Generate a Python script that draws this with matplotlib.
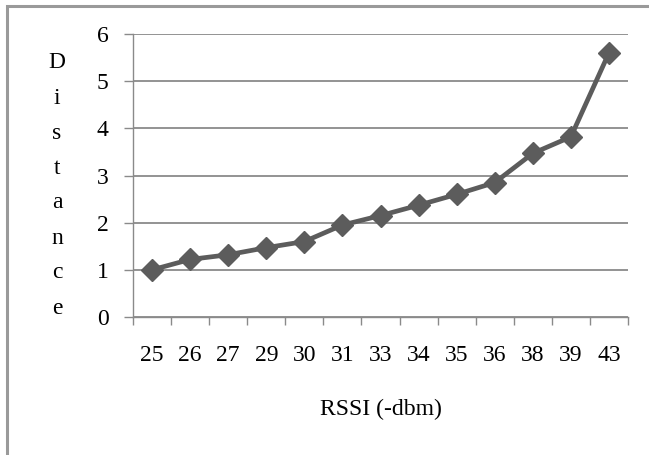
import matplotlib
matplotlib.use('Agg')
import matplotlib.pyplot as plt
from matplotlib.patches import Rectangle

# data
rssi = ['25', '26', '27', '29', '30', '31', '33', '34', '35', '36', '38', '39', '43']
distance = [1.0, 1.22, 1.32, 1.47, 1.6, 1.95, 2.15, 2.37, 2.6, 2.85, 3.47, 3.82, 5.6]
y_ticks = [0, 1, 2, 3, 4, 5, 6]

plt.rcParams['font.family'] = ['Liberation Serif', 'DejaVu Serif']

W, H = 649, 455
fig = plt.figure(figsize=(W / 100, H / 100), dpi=100)
# plot area in pixels: x 133..628, y 34..317
ax = fig.add_axes([133 / W, 1 - 317 / H, 495 / W, 283 / H])

x = list(range(len(rssi)))
ax.plot(x, distance, color='#5c5c5c', lw=3.4, marker='D', ms=11.5,
        markerfacecolor='#5c5c5c', markeredgecolor='#5c5c5c', zorder=3)

ax.set_xlim(-0.5, len(rssi) - 0.5)
ax.set_ylim(0, 6)
ax.set_yticks(y_ticks)
ax.set_yticklabels([str(v) for v in y_ticks], fontsize=17)
ax.tick_params(axis='y', length=6.5, width=1, color='#8a8a8a', pad=11)
ax.yaxis.grid(True, color='#8a8a8a', lw=1.3)
ax.set_axisbelow(True)

# category labels centred, tick marks on category boundaries
ax.set_xticks(x)
ax.set_xticklabels(rssi, fontsize=17)
ax.set_xticks([i - 0.5 for i in range(len(rssi) + 1)], minor=True)
ax.tick_params(axis='x', which='major', length=0, pad=20)
ax.tick_params(axis='x', which='minor', length=6, color='#8a8a8a', width=1)

for s in ['top', 'right']:
    ax.spines[s].set_visible(False)
for s in ['left', 'bottom']:
    ax.spines[s].set_color('#8a8a8a')
    ax.spines[s].set_linewidth(1.0)

ax.set_xlabel('RSSI (-dbm)', fontsize=17, labelpad=24)

# stacked y label
for i, ch in enumerate('Distance'):
    fig.text(57 / W, 1 - (63 + i * 35) / H, ch, fontsize=17,
             ha='center', va='center')

# outer frame (only left and top visible in the reference)
fig.patches.append(Rectangle((7 / W, -0.1), 1.2, 1 - 6 / H + 0.1,
                             transform=fig.transFigure, fill=False,
                             edgecolor='#9a9a9a', lw=2.2))

fig.savefig('out.png', dpi=100)
